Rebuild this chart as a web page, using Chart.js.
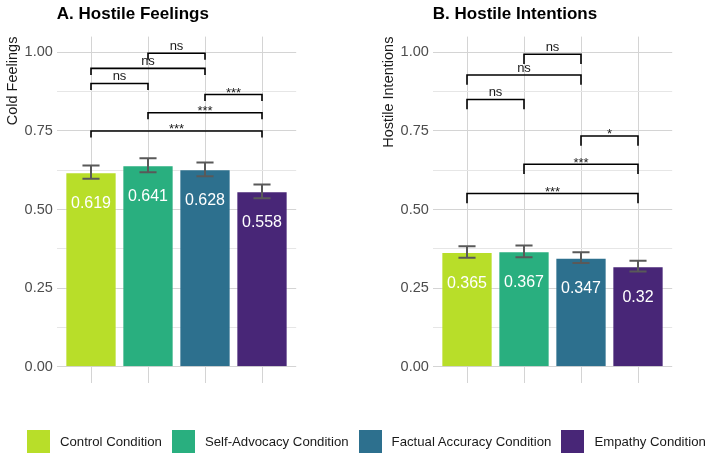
<!DOCTYPE html>
<html>
<head>
<meta charset="utf-8">
<script src="https://cdn.jsdelivr.net/npm/chart.js@4.4.1/dist/chart.umd.min.js"></script>
<style>
  html, body { margin: 0; padding: 0; background: #ffffff; }
  body { width: 713px; height: 454px; position: relative; overflow: hidden;
         font-family: "Liberation Sans", Arial, sans-serif; }
  #panelA { position: absolute; left: 0; top: 0; }
  #panelB { position: absolute; left: 376px; top: 0; }
  #legend { position: absolute; left: 27px; top: 430px; height: 23px;
            display: flex; align-items: center; font-size: 13.2px; color: #1a1a1a; white-space: nowrap; }
  #legend .sw { width: 23px; height: 23px; margin-right: 10px; flex: none; }
  #legend .lab { margin-right: 10px; }
</style>
</head>
<body>
<canvas id="panelA" width="356" height="454"></canvas>
<canvas id="panelB" width="337" height="454"></canvas>
<div id="legend"></div>
<script>
// Experimental conditions and their fill colours
const conditions = ['Control Condition', 'Self-Advocacy Condition', 'Factual Accuracy Condition', 'Empathy Condition'];
const conditionColors = ['#B8DE29', '#29AF7F', '#2D708E', '#482677'];

// Panel A: cold feelings (mean and standard error per condition)
const feelingsMean = [0.619, 0.641, 0.628, 0.558];
const feelingsSE = [0.021, 0.022, 0.022, 0.022];

// Panel B: hostile intentions (mean and standard error per condition)
const intentionsMean = [0.365, 0.367, 0.347, 0.32];
const intentionsSE = [0.018, 0.019, 0.017, 0.017];

// y-axis ticks (major every 0.25, minor in between)
const yTicks = [0, 0.125, 0.25, 0.375, 0.5, 0.625, 0.75, 0.875, 1];

// Pairwise comparisons, panel A
const feelingsCmpFrom = [1, 1, 2, 3, 2, 1];
const feelingsCmpTo = [2, 3, 3, 4, 4, 4];
const feelingsCmpY = [0.901, 0.949, 0.997, 0.866, 0.808, 0.750];
const feelingsCmpLabel = ['ns', 'ns', 'ns', '***', '***', '***'];

// Pairwise comparisons, panel B
const intentionsCmpFrom = [1, 1, 2, 3, 2, 1];
const intentionsCmpTo = [2, 3, 3, 4, 4, 4];
const intentionsCmpY = [0.850, 0.928, 0.994, 0.734, 0.644, 0.551];
const intentionsCmpLabel = ['ns', 'ns', 'ns', '*', '***', '***'];

const FONT = '"Liberation Sans", Arial, sans-serif';
const isMajor = v => Math.abs(Math.round(v * 1000) % 250) === 0;

// Draws panel title, error bars, value labels and comparison brackets
const annotations = {
  id: 'annotations',
  afterDatasetsDraw(chart, args, opts) {
    const { ctx, chartArea } = chart;
    const xs = chart.scales.x, ys = chart.scales.y;
    ctx.save();

    // error bars
    ctx.strokeStyle = '#595959';
    ctx.lineWidth = 2;
    ctx.lineCap = 'butt';
    opts.means.forEach((m, i) => {
      const g = i + 1;
      const xc = xs.getPixelForValue(g);
      const xl = xs.getPixelForValue(g - 0.15), xr = xs.getPixelForValue(g + 0.15);
      const yt = ys.getPixelForValue(m + opts.se[i]), yb = ys.getPixelForValue(m - opts.se[i]);
      ctx.beginPath();
      ctx.moveTo(xc, yt); ctx.lineTo(xc, yb);
      ctx.moveTo(xl, yt); ctx.lineTo(xr, yt);
      ctx.moveTo(xl, yb); ctx.lineTo(xr, yb);
      ctx.stroke();
    });

    // value labels inside the bars
    ctx.fillStyle = '#ffffff';
    ctx.font = '16px ' + FONT;
    ctx.textAlign = 'center';
    ctx.textBaseline = 'alphabetic';
    opts.means.forEach((m, i) => {
      ctx.fillText(String(m), xs.getPixelForValue(i + 1), ys.getPixelForValue(m) + 35.5);
    });

    // comparison brackets
    ctx.strokeStyle = '#000000';
    ctx.lineWidth = 1.6;
    ctx.lineJoin = 'miter';
    ctx.fillStyle = '#1a1a1a';
    ctx.font = '13px ' + FONT;
    opts.cmpFrom.forEach((a, k) => {
      const b = opts.cmpTo[k], h = opts.cmpY[k];
      const x1 = xs.getPixelForValue(a), x2 = xs.getPixelForValue(b);
      const y = ys.getPixelForValue(h), yTip = ys.getPixelForValue(h - opts.tip);
      ctx.beginPath();
      ctx.moveTo(x1, yTip); ctx.lineTo(x1, y); ctx.lineTo(x2, y); ctx.lineTo(x2, yTip);
      ctx.stroke();
      const lab = opts.cmpLabel[k];
      const off = /^\*+$/.test(lab) ? -2.5 : 3;
      ctx.fillText(lab, (x1 + x2) / 2, y - off);
    });

    // panel title
    ctx.fillStyle = '#000000';
    ctx.font = 'bold 17px ' + FONT;
    ctx.textAlign = 'left';
    ctx.fillText(opts.title, chartArea.left, 18.5);
    ctx.restore();
  }
};

function makePanel(canvasId, title, yTitle, means, se, cmpFrom, cmpTo, cmpY, cmpLabel, tip, rightPad) {
  return new Chart(document.getElementById(canvasId), {
    type: 'bar',
    data: {
      datasets: [{
        data: means.map((m, i) => ({ x: i + 1, y: m })),
        backgroundColor: conditionColors,
        borderColor: 'rgba(255,255,255,0.3)',
        borderWidth: 1,
        barPercentage: 0.9,
        categoryPercentage: 1.0
      }]
    },
    options: {
      responsive: false,
      animation: false,
      devicePixelRatio: 1,
      layout: { padding: { left: 0, right: rightPad, top: 36.6, bottom: 71.5 } },
      plugins: {
        legend: { display: false },
        tooltip: { enabled: false },
        annotations: { title, means, se, cmpFrom, cmpTo, cmpY, cmpLabel, tip }
      },
      scales: {
        x: {
          type: 'linear', min: 0.4, max: 4.6, offset: false,
          afterBuildTicks: s => { s.ticks = [1, 2, 3, 4].map(v => ({ value: v })); },
          ticks: { display: false },
          grid: { color: '#d4d4d4', lineWidth: 1, drawTicks: false, offset: false },
          border: { display: false },
          afterFit: s => { s.height = 0; }
        },
        y: {
          min: -0.05, max: 1.05,
          afterBuildTicks: s => { s.ticks = yTicks.map(v => ({ value: v })); },
          ticks: {
            padding: 4, color: '#4d4d4d', font: { size: 14.5, family: FONT },
            callback: v => isMajor(v) ? v.toFixed(2) : ''
          },
          grid: {
            color: c => isMajor(c.tick.value) ? '#d4d4d4' : '#e6e6e6',
            lineWidth: 1, drawTicks: false
          },
          border: { display: false },
          title: {
            display: true, text: yTitle, align: 'end', color: '#1a1a1a',
            font: { size: 14.5, family: FONT }, padding: { top: 4, bottom: 0 }
          },
          afterFit: s => { s.width = 56.8; }
        }
      }
    },
    plugins: [annotations]
  });
}

makePanel('panelA', 'A. Hostile Feelings', 'Cold Feelings', feelingsMean, feelingsSE,
  feelingsCmpFrom, feelingsCmpTo, feelingsCmpY, feelingsCmpLabel, 0.021, 59.8);
makePanel('panelB', 'B. Hostile Intentions', 'Hostile Intentions', intentionsMean, intentionsSE,
  intentionsCmpFrom, intentionsCmpTo, intentionsCmpY, intentionsCmpLabel, 0.031, 40.8);

// Shared legend
const legend = document.getElementById('legend');
conditions.forEach((name, i) => {
  const sw = document.createElement('div');
  sw.className = 'sw';
  sw.style.background = conditionColors[i];
  const lab = document.createElement('span');
  lab.className = 'lab';
  lab.textContent = name;
  legend.appendChild(sw);
  legend.appendChild(lab);
});
</script>
</body>
</html>
